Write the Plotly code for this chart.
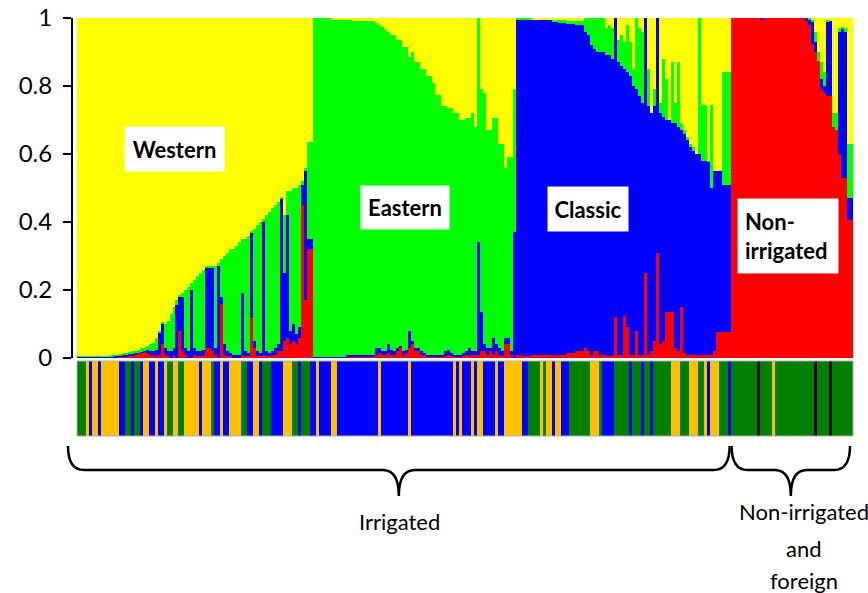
import plotly.graph_objects as go

# ---------------- data (STRUCTURE-like membership proportions) ----------------
group_names = ["Western", "Eastern", "Classic", "Non-irrigated"]
group_sizes = [79, 68, 72, 41]
cluster_colors = {"red": "#ff0000", "blue": "#0000ff", "green": "#00ff00", "yellow": "#ffff00"}

# Western group
red_western = [0]*13 + [.002, .003, .004, .005, .006, .008, .01, .012, .015, .018, .015, .01, .008, .005, .01, .04,
               .01, .005, 0, .01, 0, .08, .02, .01, 0, 0, .01, .005, .005, .01, .03, .03, .02, .01, 0, .16, .01,
               .005, .005, 0, 0, 0, .01, .005, .005, .12, .03, .005, .005, .01, .005, .005, .01, .01, .02, .02,
               .05, .06, .04, .05, .04, .06, .45, .17, .32, .32]
blue_western = [.004]*8 + [.005]*4 + [.006, .004, .004, .004, .005, .006, .004, .004, .004, .003, .004, .01, .01,
                .012, .02, .065, .06, .02, .015, .02, .02, .155, .1, .16, .02, .02, .2, .02, .015, .015, .015,
                .235, .235, .245, .02, .27, .02, .03, .015, .01, .01, .01, .01, .18, .015, .01, .25, .02, .015,
                .01, .39, .015, .01, .01, .02, .02, .45, .2, .36, .04, .05, .03, .03, .06, .38, .03, .03]
green_western = [.001]*7 + [.002, .001, .002, .002, .003, .003, .004, .005, .006, .006, .006, .008, .008, .009,
                 .01, .008, .01, .02, .025, .035, .005, .005, .07, .09, .11, .12, .015, .005, .01, .17, .19, .02,
                 .2, .22, .23, .235, .005, .005, .005, .24, .01, .11, .26, .29, .305, .31, .32, .33, .16, .33,
                 .345, .005, .33, .37, .385, .01, .4, .415, .42, .42, .42, .005, .17, .07, .41, .4, .43, .42,
                 .01, .01, .285, .285]

# Eastern group
red_eastern = [0]*11 + [.005]*10 + [.01, .015, .01, .01, .015, .01, .01, .02, .03, .01, .015, .03, .04, .02, .02,
               .01, .01] + [.005]*7 + [.01] + [.005]*5 + [.01, .01, .01, .01, .01, .02, .02, .01, .02, .01, .02,
               .01, .005, .04, .04, .01, 0]
blue_eastern = [.003]*11 + [.005]*10 + [.02, .015, .01, .01, .025, .015, .01, .01, .005, .01, .01, .05, .01, .01,
                .01, .01, .005] + [.005]*6 + [.015, .015, .01, .005, .005, .005, .01, .01, .02, .01, .01, .33,
                .115, .02, .02, .01, .05, .02, .02, .015, .02, .02, .01, .37]
green_eastern = [.997]*6 + [.992]*5 + [.985]*2 + [.98]*8 + [.955, .95, .955, .945, .92, .925, .93, .905, .9, .895,
                 .89, .805, .85, .84, .84, .83, .835, .82, .82, .8, .765, .765, .73, .72, .71, .72, .71, .71, .69,
                 .685, .685, .675, .7, .66, .66, .655, .74, .64, .64, .645, .665, .6, .61, .5, .53, .57, .42]

# Classic group
red_classic = [.01, .01, .005, .005, .005] + [.01]*7 + [.01]*2 + [.01]*3 + [.015]*3 + [.02]*3 + [
    .03, .02, .01, .02, .02, .01, .01, .005, .005, .01, .12, .01, .01, .125, .09, .01, .01, .08, .01, .01, .25,
    .01, .02, .05, .31, .04, .05, .135, .135, .135, .03, .02, .15, .015, .01, .01, .01, .01, .01, .01, .01, .01,
    .01, .02, .077, .077, .077, .077, .077]
blue_classic = [.985, .985, .99, .99, .99] + [.985]*7 + [.98]*2 + [.975]*3 + [.97]*3 + [.96]*3 + [
    .93, .93, .91, .89, .88, .89, .89, .885, .885, .87, .88, .86, .85, .725, .75, .82, .79, .71, .76, .74, .75,
    .73, .7, .69, .69, .68, .66, .565, .565, .555, .66, .66, .52, .645, .63, .61, .6, .59, .59, .57, .57, .567,
    .49, .53, .473, .473, .433, .433, .433]
green_classic = [.005, .005, .005, .005, .005] + [0]*7 + [.005]*2 + [.01]*3 + [.005]*3 + [.01]*3 + [
    .04, .05, .08, .09, .1, .1, .1, .08, .09, .09, 0, .065, .09, .08, .14, .1, .05, .21, .2, .21, 0, .11, 0, .05,
    0, .03, .17, .12, 0, .18, .06, .19, .02, .01, .01, .01, .01, 0, .4, .165, .165, .003, .245, 0, 0, 0, .33,
    .33, .33]

# Non-irrigated group
red_nonirr = [1]*10 + [.995] + [1]*14 + [.99, .98, .925, .9, .875, .79, .78, .77, .77, .68, .67, .6, .53, .53,
                                       .405, .405]
blue_nonirr = [0]*10 + [.005] + [0]*14 + [.01, .015, .065, .03, 0, .03, .02, .22, .22, 0, 0, .36, .44, .43,
                                        .065, .065]
green_nonirr = [0]*10 + [0] + [0]*14 + [0, .005, .005, .03, .025, .05, .04, .005, 0, .04, .05, .01, .005, .01,
                                      .16, .16]

# Origin strip below the bars (G = dark green, O = orange, B = blue, K = black)
strip_western = "GGGOBOOBOOOOOOBBGGBGGBOOBBOBBOGGOOGGOOOOOBOOOGBBOBBOOOOGGBBOOBGGGBBBBOOOGGBGGGB"
strip_eastern = "BOBBBBOO" + "B"*14 + "O" + "B"*9 + "O" + "B"*14 + "OBOBBBOBOOBBBBOBBOOOO"
strip_classic = "OOBBGGGGOGOOBOOBBBGGGGGGGOOOGBBBBGGGGGBGGGBGGBGGGGGGOOOGGGOOOGGOBOOOGGGB"
strip_nonirr = "G"*9 + "K" + "GGGG" + "O" + "G"*13 + "K" + "GGGG" + "K" + "G"*7
strip_palette = {"G": "#007f00", "O": "#ffc000", "B": "#0000ff", "K": "#000000"}

ytick_vals = [0, 0.2, 0.4, 0.6, 0.8, 1]
ytick_text = ["0", "0.2", "0.4", "0.6", "0.8", "1"]

# ---------------- assemble ----------------
red = red_western + red_eastern + red_classic + red_nonirr
blue = blue_western + blue_eastern + blue_classic + blue_nonirr
green = green_western + green_eastern + green_classic + green_nonirr
yellow = [max(0.0, 1 - r - b - g) for r, b, g in zip(red, blue, green)]
strip = list(strip_western + strip_eastern + strip_classic + strip_nonirr)
n = len(red)
xs = list(range(n))

# ---------------- geometry (pixels) ----------------
W, H = 868, 593
L, R, T, B = 73, 853, 18, 436          # plot area
BAR_LEFT = 77                          # first bar starts a bit right of the axis line
ppu = (R - BAR_LEFT) / n               # pixels per individual
main_bottom, strip_top = 358, 361


def fx(px):
    return (px - L) / (R - L)


def fy(py):
    return (B - py) / (B - T)


def data_px(d):
    return BAR_LEFT + (d + 0.5) * ppu


fig = go.Figure()
for vals, key in [(red, "red"), (blue, "blue"), (green, "green"), (yellow, "yellow")]:
    fig.add_trace(go.Bar(x=xs, y=vals, width=1, marker=dict(color=cluster_colors[key], line=dict(width=0)),
                         xaxis="x", yaxis="y", showlegend=False, hoverinfo="skip"))
fig.add_trace(go.Bar(x=xs, y=[1]*n, width=1,
                     marker=dict(color=[strip_palette[c] for c in strip], line=dict(width=0)),
                     xaxis="x", yaxis="y2", showlegend=False, hoverinfo="skip"))

fig.update_layout(
    width=W, height=H, autosize=False,
    margin=dict(l=L, r=W - R, t=T, b=H - B, pad=0, autoexpand=False),
    barmode="stack", bargap=0,
    plot_bgcolor="white", paper_bgcolor="white",
    font=dict(family="Lato", color="black"),
    xaxis=dict(range=[-0.5 - (BAR_LEFT - L) / ppu, n - 0.5], visible=False, anchor="y", fixedrange=True,
               automargin=False),
    yaxis=dict(domain=[fy(main_bottom), 1], range=[0, 1], tickvals=ytick_vals, ticktext=ytick_text,
               showline=True, linecolor="black", linewidth=2, ticks="outside", ticklen=8, tickwidth=2,
               tickcolor="black", showgrid=False, zeroline=False, automargin=False,
               tickfont=dict(family="Lato", size=24, color="black"), ticklabelstandoff=6),
    yaxis2=dict(domain=[0, fy(strip_top)], range=[0, 1], visible=False, anchor="x", automargin=False),
)

# faint outline around the origin strip
fig.add_shape(type="rect", xref="paper", yref="paper", x0=fx(BAR_LEFT), x1=fx(R), y0=fy(B), y1=fy(strip_top),
              line=dict(color="#b0b0b0", width=1), fillcolor="rgba(0,0,0,0)")

# labelled boxes
boxes = [("<b>Western</b>", 174.5, 149, 99, 44, "center", 0),
         ("<b>Eastern</b>", 405, 207.5, 88, 43, "center", 0),
         ("<b>Classic</b>", 588, 209, 80, 44, "center", 0),
         ("<b>Non-<br>irrigated</b>", 788, 236, 86, 60, "left", 7)]
for text, cx, cy, w, h, al, pad in boxes:
    fig.add_annotation(text=text, xref="paper", yref="paper", x=fx(cx), y=fy(cy), xanchor="center",
                       yanchor="middle", showarrow=False, width=w, height=h, align=al, bgcolor="white",
                       borderpad=pad, font=dict(family="Lato", size=22, color="black"))


# braces under the strip
def brace(x0, x1, ytop, ymid, ybot, r):
    xm = (x0 + x1) / 2
    pts = lambda px, py: f"{fx(px):.5f},{fy(py):.5f}"
    return (f"M {pts(x0, ytop)} Q {pts(x0, ymid)} {pts(x0 + r, ymid)} L {pts(xm - r, ymid)} "
            f"Q {pts(xm, ymid)} {pts(xm, ybot)} Q {pts(xm, ymid)} {pts(xm + r, ymid)} "
            f"L {pts(x1 - r, ymid)} Q {pts(x1, ymid)} {pts(x1, ytop)}")


n_irr = sum(group_sizes[:3])
x_start = data_px(-0.5) - 9
x_split = data_px(n_irr - 0.5)
x_end = data_px(n - 0.5) - 3
for a, b_ in [(x_start, x_split - 1), (x_split + 1, x_end)]:
    fig.add_shape(type="path", path=brace(a, b_, 446, 470, 496, 16), xref="paper", yref="paper",
                  line=dict(color="black", width=2.5))

labels = [("Irrigated", (x_start + x_split) / 2, 521),
          ("Non-irrigated", 804, 511), ("and", 804, 548), ("foreign", 804, 580)]
for text, cx, cy in labels:
    fig.add_annotation(text=text, xref="paper", yref="paper", x=fx(cx), y=fy(cy), xanchor="center",
                       yanchor="middle", showarrow=False, font=dict(family="Lato", size=22, color="black"))

fig.write_html("out.html", config={"displayModeBar": False},
               post_script="document.body.style.margin='0';document.body.style.overflow='hidden';")
